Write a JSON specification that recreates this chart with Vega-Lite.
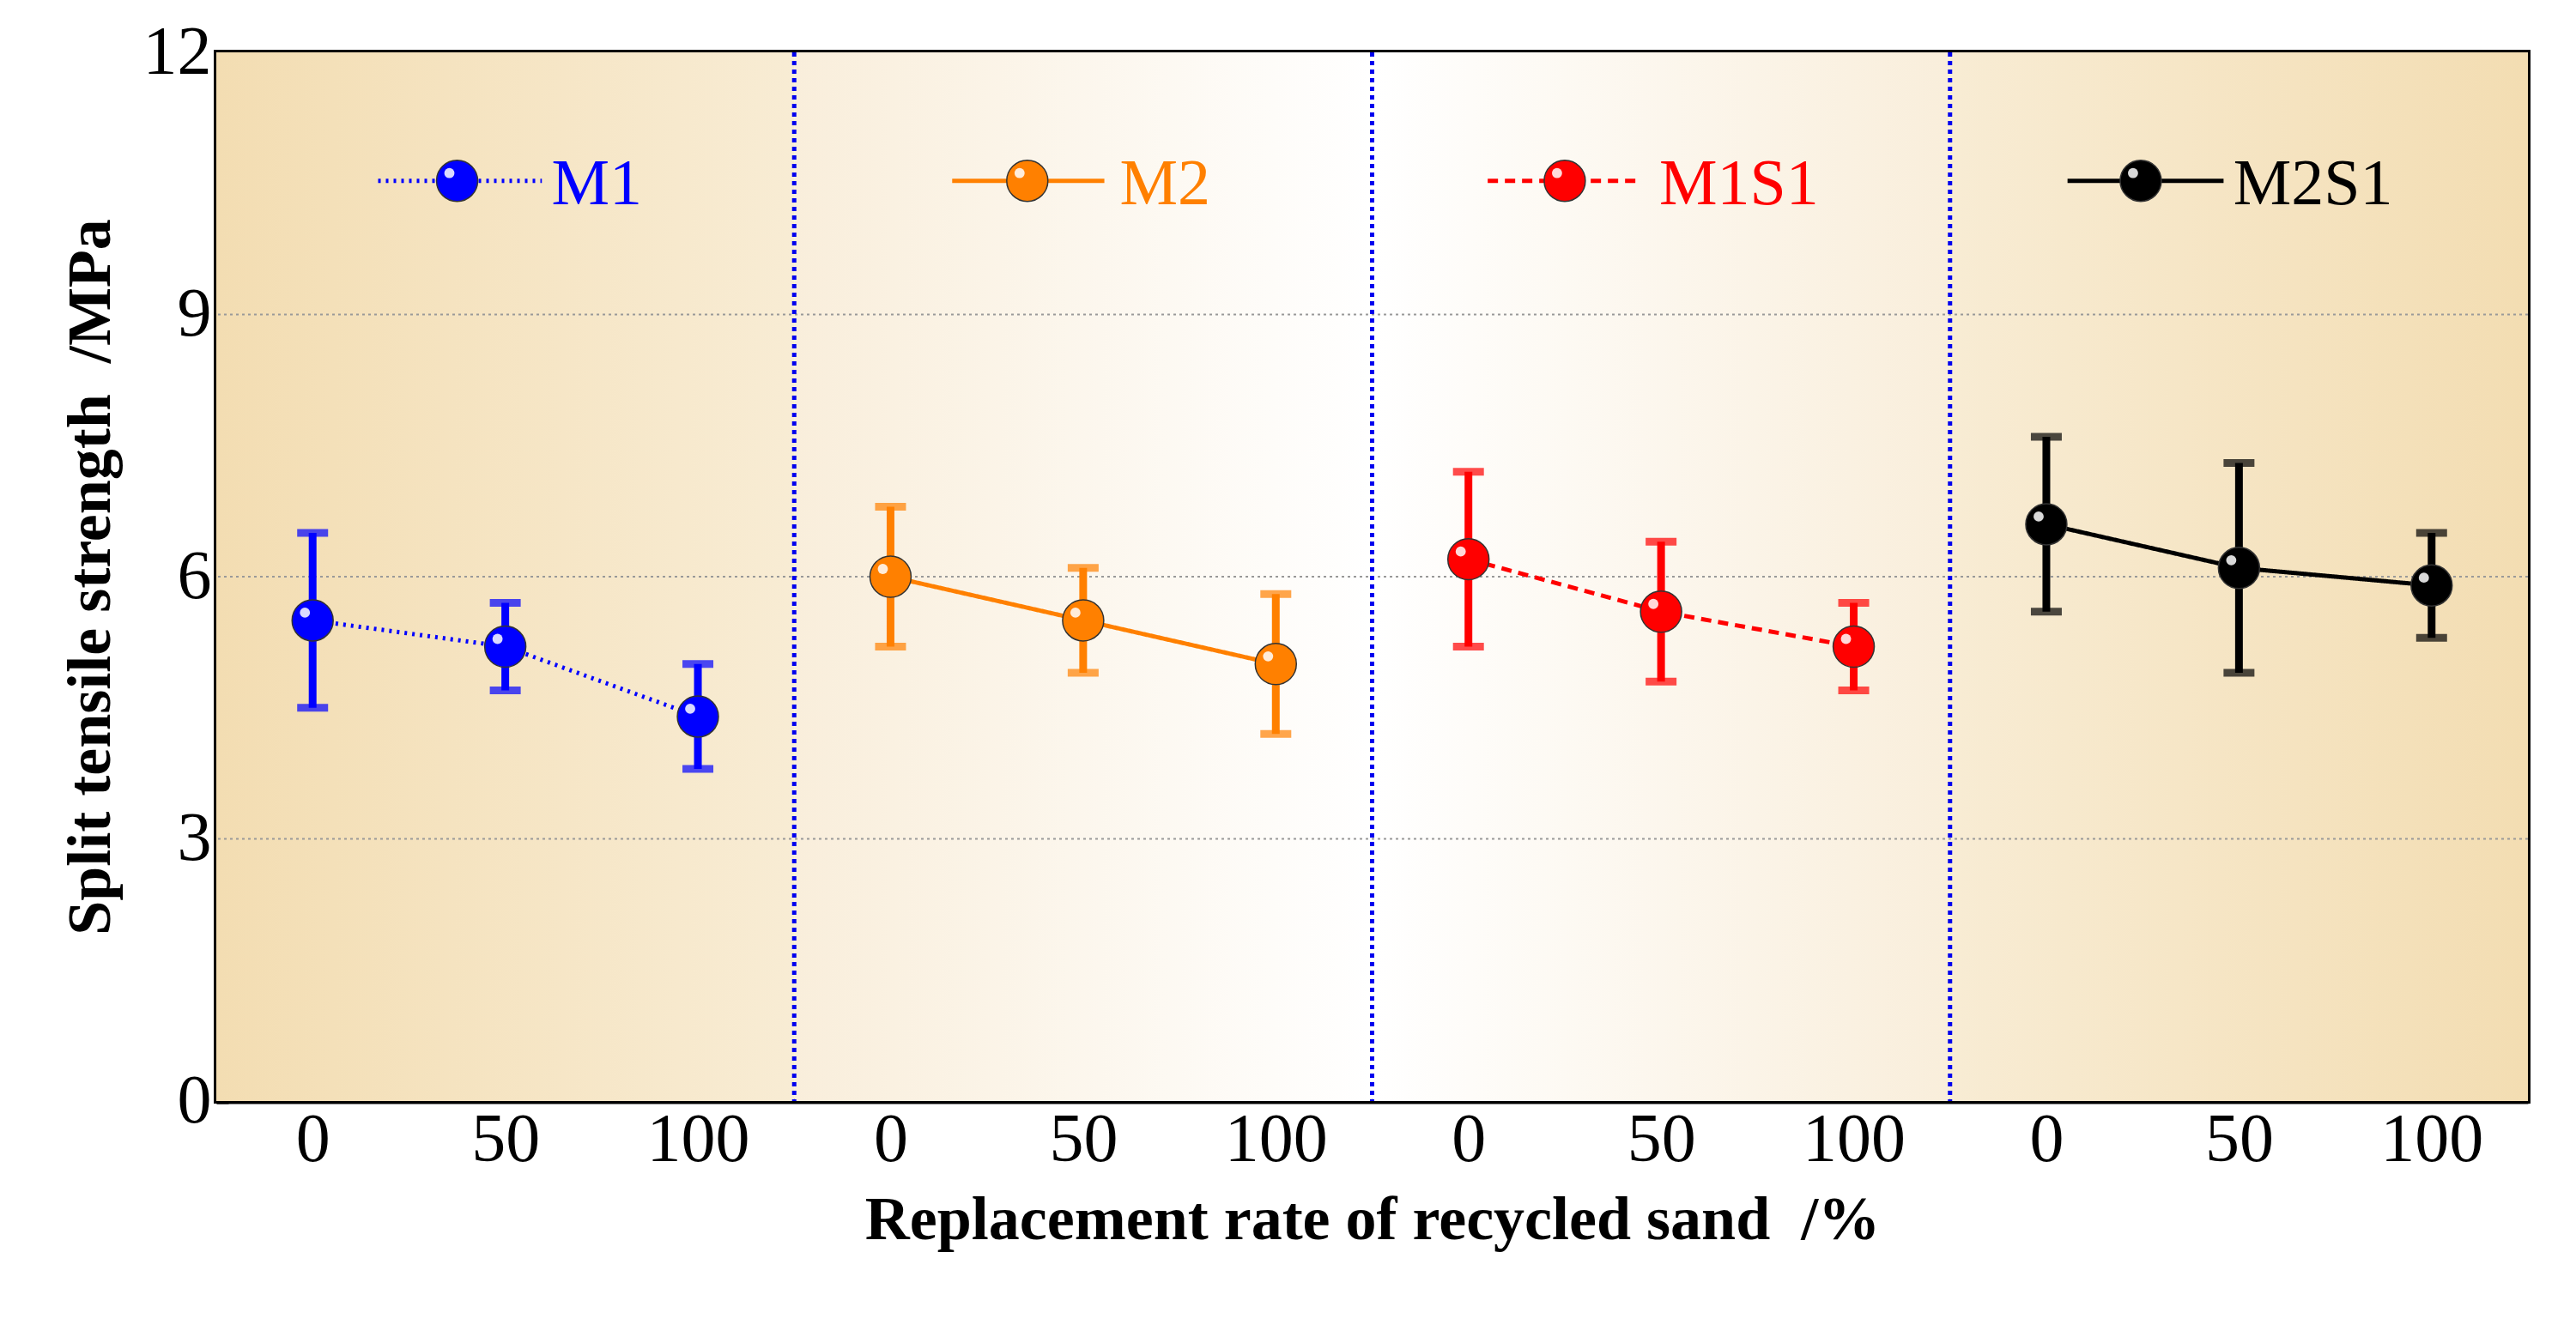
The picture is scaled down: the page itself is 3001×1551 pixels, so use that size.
{
  "$schema": "https://vega.github.io/schema/vega-lite/v6.json",
  "width": 2693,
  "height": 1222,
  "autosize": "none",
  "padding": {"left": 252, "top": 61, "right": 56, "bottom": 268},
  "background": "white",
  "config": {
    "font": "Liberation Serif",
    "view": {"stroke": "black", "strokeWidth": 6},
    "axis": {"domainColor": "black", "domainWidth": 6, "tickColor": "black", "tickWidth": 6, "labelColor": "black", "titleColor": "black", "grid": false}
  },
  "datasets": {
    "pts": [
      {"s": "M1", "x": 0, "y": 5.5, "lo": 4.5, "hi": 6.5},
      {"s": "M1", "x": 1, "y": 5.2, "lo": 4.7, "hi": 5.7},
      {"s": "M1", "x": 2, "y": 4.4, "lo": 3.8, "hi": 5.0},
      {"s": "M2", "x": 3, "y": 6.0, "lo": 5.2, "hi": 6.8},
      {"s": "M2", "x": 4, "y": 5.5, "lo": 4.9, "hi": 6.1},
      {"s": "M2", "x": 5, "y": 5.0, "lo": 4.2, "hi": 5.8},
      {"s": "M1S1", "x": 6, "y": 6.2, "lo": 5.2, "hi": 7.2},
      {"s": "M1S1", "x": 7, "y": 5.6, "lo": 4.8, "hi": 6.4},
      {"s": "M1S1", "x": 8, "y": 5.2, "lo": 4.7, "hi": 5.7},
      {"s": "M2S1", "x": 9, "y": 6.6, "lo": 5.6, "hi": 7.6},
      {"s": "M2S1", "x": 10, "y": 6.1, "lo": 4.9, "hi": 7.3},
      {"s": "M2S1", "x": 11, "y": 5.9, "lo": 5.3, "hi": 6.5}
    ],
    "leg": [
      {"s": "M1", "x1": 0.34, "x2": 1.19, "xs": 0.75, "xt": 1.24, "y": 10.53},
      {"s": "M2", "x1": 3.32, "x2": 4.11, "xs": 3.71, "xt": 4.19, "y": 10.53},
      {"s": "M1S1", "x1": 6.1, "x2": 6.9, "xs": 6.5, "xt": 6.99, "y": 10.53},
      {"s": "M2S1", "x1": 9.11, "x2": 9.92, "xs": 9.49, "xt": 9.97, "y": 10.53}
    ]
  },
  "layer": [
    {"data": {"values": [{"a": -0.5, "b": 2.5}]}, "mark": {"type": "rect", "fill": {"gradient": "linear", "x1": 0, "x2": 1, "y1": 0, "y2": 0, "stops": [{"offset": 0, "color": "#f3ddb2"}, {"offset": 1, "color": "#f8ecd4"}]}},
     "encoding": {"x": {"field": "a", "type": "quantitative", "scale": {"domain": [-0.5, 11.5], "nice": false, "zero": false}}, "x2": {"field": "b"}, "y": {"datum": 0, "type": "quantitative", "scale": {"domain": [0, 12], "nice": false}}, "y2": {"datum": 12}}},
    {"data": {"values": [{"a": 2.5, "b": 5.5}]}, "mark": {"type": "rect", "fill": {"gradient": "linear", "x1": 0, "x2": 1, "y1": 0, "y2": 0, "stops": [{"offset": 0, "color": "#f9eedb"}, {"offset": 1, "color": "#ffffff"}]}},
     "encoding": {"x": {"field": "a", "type": "quantitative"}, "x2": {"field": "b"}, "y": {"datum": 0, "type": "quantitative"}, "y2": {"datum": 12}}},
    {"data": {"values": [{"a": 5.5, "b": 8.5}]}, "mark": {"type": "rect", "fill": {"gradient": "linear", "x1": 0, "x2": 1, "y1": 0, "y2": 0, "stops": [{"offset": 0, "color": "#ffffff"}, {"offset": 1, "color": "#f9eedb"}]}},
     "encoding": {"x": {"field": "a", "type": "quantitative"}, "x2": {"field": "b"}, "y": {"datum": 0, "type": "quantitative"}, "y2": {"datum": 12}}},
    {"data": {"values": [{"a": 8.5, "b": 11.5}]}, "mark": {"type": "rect", "fill": {"gradient": "linear", "x1": 0, "x2": 1, "y1": 0, "y2": 0, "stops": [{"offset": 0, "color": "#f8ecd4"}, {"offset": 1, "color": "#f3ddb2"}]}},
     "encoding": {"x": {"field": "a", "type": "quantitative"}, "x2": {"field": "b"}, "y": {"datum": 0, "type": "quantitative"}, "y2": {"datum": 12}}},
    {"data": {"values": [{"g": 3}, {"g": 6}, {"g": 9}]}, "mark": {"type": "rule", "color": "#999999", "strokeWidth": 2, "strokeDash": [3, 4]},
     "encoding": {"y": {"field": "g", "type": "quantitative"}}},
    {"data": {"values": [{"v": 2.5}, {"v": 5.5}, {"v": 8.5}]}, "mark": {"type": "rule", "color": "#0000ee", "strokeWidth": 5, "strokeDash": [5, 5]},
     "encoding": {"x": {"field": "v", "type": "quantitative"}}},
    {"data": {"name": "pts"}, "mark": {"type": "line"},
     "encoding": {
       "x": {"field": "x", "type": "quantitative",
             "axis": {"values": [0, 1, 2, 3, 4, 5, 6, 7, 8, 9, 10, 11], "labelExpr": "['0','50','100'][datum.value % 3]", "labelFontSize": 80, "labelPadding": 20, "tickSize": -14, "title": "Replacement rate of recycled sand\u00a0\u00a0/%", "titleFontSize": 72, "titleFontWeight": "bold", "titlePadding": 18}},
       "y": {"field": "y", "type": "quantitative",
             "axis": {"values": [0, 1.5, 3, 4.5, 6, 7.5, 9, 10.5, 12], "labelExpr": "datum.value % 3 == 0 ? format(datum.value, 'd') : ''", "labelFontSize": 80, "labelPadding": 20, "tickSize": -14, "title": "Split tensile strength\u00a0\u00a0/MPa", "titleFontSize": 72, "titleFontWeight": "bold", "titlePadding": 24}},
       "detail": {"field": "s"},
       "color": {"field": "s", "type": "nominal", "scale": {"domain": ["M1", "M2", "M1S1", "M2S1"], "range": ["#0000ff", "#ff8000", "#ff0000", "#000000"]}, "legend": null},
       "strokeDash": {"field": "s", "type": "nominal", "scale": {"domain": ["M1", "M2", "M1S1", "M2S1"], "range": [[3, 6], [1, 0], [12, 8], [1, 0]]}, "legend": null},
       "strokeWidth": {"field": "s", "type": "nominal", "scale": {"domain": ["M1", "M2", "M1S1", "M2S1"], "range": [5, 5, 5, 10]}, "legend": null}
     }},
    {"data": {"name": "leg"}, "mark": {"type": "rule"},
     "encoding": {
       "x": {"field": "x1", "type": "quantitative"}, "x2": {"field": "x2"}, "y": {"field": "y", "type": "quantitative"},
       "color": {"field": "s", "type": "nominal", "legend": null},
       "strokeDash": {"field": "s", "type": "nominal", "legend": null},
       "strokeWidth": {"field": "s", "type": "nominal", "legend": null}
     }},
    {"data": {"name": "pts"}, "mark": {"type": "rule", "strokeWidth": 9},
     "encoding": {"x": {"field": "x", "type": "quantitative"}, "y": {"field": "lo", "type": "quantitative"}, "y2": {"field": "hi"}, "color": {"field": "s", "type": "nominal", "legend": null}}},
    {"data": {"name": "pts"}, "mark": {"type": "tick", "orient": "horizontal", "size": 36, "thickness": 9},
     "encoding": {"x": {"field": "x", "type": "quantitative"}, "y": {"field": "lo", "type": "quantitative"}, "color": {"field": "s", "type": "nominal", "legend": null}}},
    {"data": {"name": "pts"}, "mark": {"type": "tick", "orient": "horizontal", "size": 36, "thickness": 9},
     "encoding": {"x": {"field": "x", "type": "quantitative"}, "y": {"field": "hi", "type": "quantitative"}, "color": {"field": "s", "type": "nominal", "legend": null}}},
    {"data": {"name": "pts"}, "mark": {"type": "circle", "size": 2300, "opacity": 1, "stroke": "#333333", "strokeWidth": 1.5},
     "encoding": {"x": {"field": "x", "type": "quantitative"}, "y": {"field": "y", "type": "quantitative"}, "color": {"field": "s", "type": "nominal", "legend": null}}},
    {"data": {"name": "pts"}, "mark": {"type": "circle", "size": 140, "color": "#ffffff", "opacity": 0.85, "xOffset": -9, "yOffset": -9},
     "encoding": {"x": {"field": "x", "type": "quantitative"}, "y": {"field": "y", "type": "quantitative"}}},
    {"data": {"name": "leg"}, "mark": {"type": "circle", "size": 2300, "opacity": 1, "stroke": "#333333", "strokeWidth": 1.5},
     "encoding": {"x": {"field": "xs", "type": "quantitative"}, "y": {"field": "y", "type": "quantitative"}, "color": {"field": "s", "type": "nominal", "legend": null}}},
    {"data": {"name": "leg"}, "mark": {"type": "circle", "size": 140, "color": "#ffffff", "opacity": 0.85, "xOffset": -9, "yOffset": -9},
     "encoding": {"x": {"field": "xs", "type": "quantitative"}, "y": {"field": "y", "type": "quantitative"}}},
    {"data": {"name": "leg"}, "mark": {"type": "text", "align": "left", "baseline": "middle", "fontSize": 76, "dy": 4},
     "encoding": {"x": {"field": "xt", "type": "quantitative"}, "y": {"field": "y", "type": "quantitative"}, "text": {"field": "s"}, "color": {"field": "s", "type": "nominal", "legend": null}}}
  ]
}
